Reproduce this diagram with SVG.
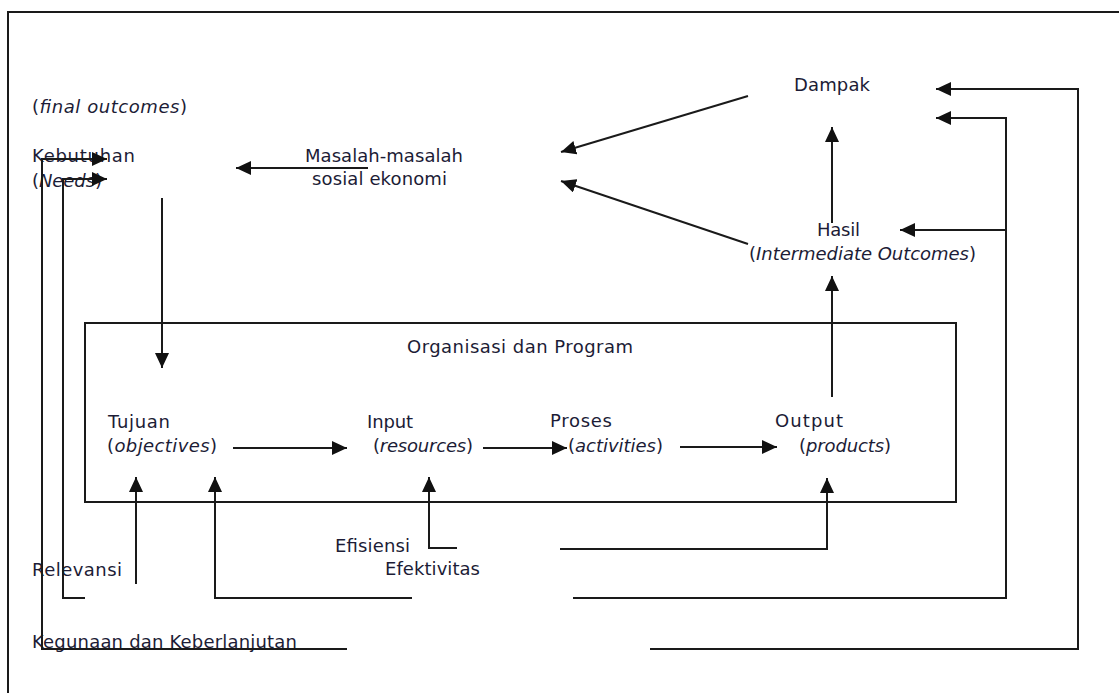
<svg xmlns="http://www.w3.org/2000/svg" width="1119" height="693" viewBox="0 0 1119 693">
<defs>
<style>
text{font-family:"DejaVu Sans","Liberation Sans",sans-serif;font-size:18px;fill:#1c1c36}
.i{font-style:italic}
.ln{fill:none;stroke:#1a1a1a;stroke-width:2}
.ar{marker-end:url(#ah)}
</style>
<marker id="ah" markerUnits="userSpaceOnUse" markerWidth="16" markerHeight="14" refX="15" refY="7" orient="auto">
<path d="M0,0 L15,7 L0,14 z" fill="#111"/>
</marker>
</defs>
<rect width="1119" height="693" fill="#fff"/>
<path class="ln" d="M8,693 V12 H1119"/>
<g id="box-organisasi"><rect class="ln" x="85" y="323" width="871" height="179"/><text x="407" y="353" textLength="226">Organisasi dan Program</text></g>
<g id="n-final"><text x="32" y="113" textLength="155">(<tspan class="i">final outcomes</tspan>)</text></g>
<g id="n-kebutuhan"><text x="32" y="162" textLength="103">Kebutuhan</text><text x="32" y="187" textLength="70">(<tspan class="i">Needs</tspan>)</text></g>
<g id="n-masalah"><text x="305" y="162" textLength="158">Masalah-masalah</text><text x="312" y="185" textLength="135">sosial ekonomi</text></g>
<g id="n-dampak"><text x="794" y="91" textLength="76">Dampak</text></g>
<g id="n-hasil"><text x="817" y="236" textLength="43">Hasil</text><text x="749" y="260" textLength="227">(<tspan class="i">Intermediate Outcomes</tspan>)</text></g>
<g id="n-tujuan"><text x="108" y="428" textLength="62">Tujuan</text><text x="107" y="452" textLength="110">(<tspan class="i">objectives</tspan>)</text></g>
<g id="n-input"><text x="367" y="428" textLength="46">Input</text><text x="373" y="452" textLength="100">(<tspan class="i">resources</tspan>)</text></g>
<g id="n-proses"><text x="550" y="427" textLength="62">Proses</text><text x="568" y="452" textLength="95">(<tspan class="i">activities</tspan>)</text></g>
<g id="n-output"><text x="775" y="427" textLength="68">Output</text><text x="799" y="452" textLength="92">(<tspan class="i">products</tspan>)</text></g>
<g id="n-efisiensi"><text x="335" y="552" textLength="75">Efisiensi</text></g>
<g id="n-efektivitas"><text x="385" y="575" textLength="95">Efektivitas</text></g>
<g id="n-relevansi"><text x="32" y="576" textLength="90">Relevansi</text></g>
<g id="n-kegunaan"><text x="32" y="648" textLength="265">Kegunaan dan Keberlanjutan</text></g>
<g id="connectors">
<path class="ln ar" d="M368,168 H236"/>
<path class="ln ar" d="M162,198 V368"/>
<path class="ln ar" d="M748,96 L561,152"/>
<path class="ln ar" d="M748,244 L561,181"/>
<path class="ln ar" d="M832,223 V127"/>
<path class="ln ar" d="M832,397 V276"/>
<path class="ln ar" d="M233,448 H347"/>
<path class="ln ar" d="M483,448 H567"/>
<path class="ln ar" d="M680,447 H777"/>
<path class="ln ar" d="M136,584 V477"/>
<path class="ln ar" d="M412,598 H215 V477"/>
<path class="ln ar" d="M457,548 H429 V477"/>
<path class="ln ar" d="M560,549 H827 V478"/>
<path class="ln ar" d="M573,598 H1006 V118 H936"/>
<path class="ln ar" d="M1006,230 H900"/>
<path class="ln ar" d="M650,649 H1078 V89 H936"/>
<path class="ln ar" d="M347,649 H42 V159 H107"/>
<path class="ln ar" d="M85,598 H63 V179 H107"/>
</g>
</svg>
